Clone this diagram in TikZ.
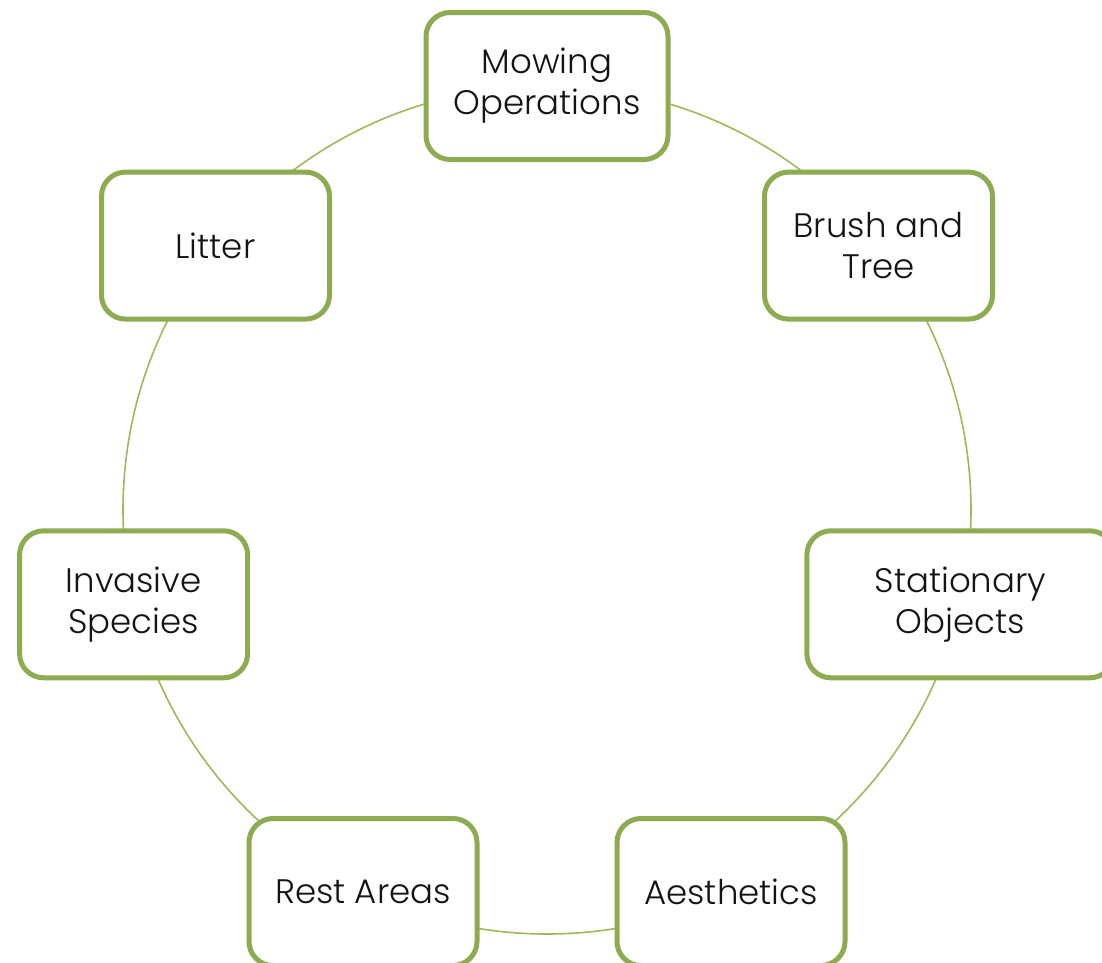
\documentclass[tikz,border=0pt]{standalone}
\usepackage{fontspec}
\setmainfont{Poppins}[UprightFont=* Light]
\definecolor{ringgreen}{RGB}{155,187,89}
\definecolor{boxgreen}{RGB}{141,171,80}
\definecolor{txt}{RGB}{20,20,20}
\begin{document}
\begin{tikzpicture}[x=1pt,y=-1pt,
  item/.style={draw=boxgreen, line width=5pt, fill=white, rounded corners=24pt,
    minimum height=147pt, minimum width=228pt, align=center, text=txt,
    font=\fontsize{34}{41}\selectfont, inner sep=0pt},
  ring/.style={draw=ringgreen, line width=1.6pt}]
\useasboundingbox (0,0) rectangle (1102,962);
\coordinate (c) at (547,510);
\draw[ring] (c) circle[radius=424];
\node[item, minimum width=242pt] (mow) at (547,86) {Mowing\\Operations};
\node[item] (brush) at (878.5,245.6) {Brush and\\Tree};
\node[item, minimum width=307pt] (stat) at (960.4,604.3) {Stationary\\Objects};
\node[item] (aes) at (731,892) {Aesthetics};
\node[item] (rest) at (363,892) {Rest Areas};
\node[item] (inv) at (133.6,604.3) {Invasive\\Species};
\node[item] (lit) at (215.5,245.6) {Litter};
\end{tikzpicture}
\end{document}
